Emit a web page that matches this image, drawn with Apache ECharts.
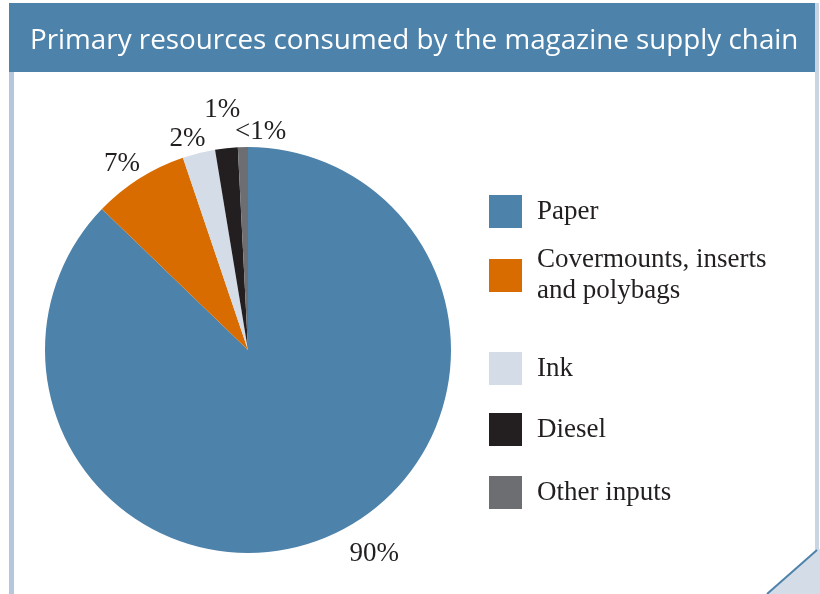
<!DOCTYPE html>
<html>
<head>
<meta charset="utf-8">
<script src="https://cdn.jsdelivr.net/npm/echarts@6/dist/echarts.min.js"></script>
<style>
  html, body { margin: 0; padding: 0; background: #fff; }
  #chart { width: 820px; height: 594px; }
</style>
</head>
<body>
<div id="chart"></div>
<script>
// values; label text as printed on the chart
const categories = ['Paper', 'Covermounts, inserts\nand polybags', 'Ink', 'Diesel', 'Other inputs'];
const shares = [87.3, 7.6, 2.6, 1.8, 0.8];
const shareLabels = ['90%', '7%', '2%', '1%', '<1%'];
const colors = ['#4d82ab', '#d96c00', '#d4dce8', '#231f20', '#6d6e71'];

const chart = echarts.init(document.getElementById('chart'), null, { renderer: 'canvas' });

// icon tops of each legend row
const legendTops = [195, 259, 352, 413, 476];
const labelShift = [[38, 8], [-7, -6], [-4, -4], [2, -28], [23, -5]];

const serif = '"Liberation Serif", "DejaVu Serif", serif';
const LINE_H = 31;

const option = {
  backgroundColor: '#fff',
  animation: false,
  color: colors,
  graphic: [
    { type: 'rect', shape: { x: 9, y: 3, width: 806, height: 69 }, style: { fill: '#4d82ab' } },
    { type: 'rect', shape: { x: 9, y: 72, width: 5, height: 522 }, style: { fill: '#b4c7dc' } },
    { type: 'rect', shape: { x: 815, y: 3, width: 4, height: 548 }, style: { fill: '#c9d5e3' } },
    {
      type: 'polygon',
      shape: { points: [[767, 594], [819, 549], [820, 549], [820, 594]] },
      style: { fill: '#d4dce8' }
    },
    {
      type: 'line',
      shape: { x1: 767, y1: 594, x2: 817, y2: 550 },
      style: { stroke: '#4d82ab', lineWidth: 2 }
    },
    {
      type: 'text',
      left: 30,
      top: 27,
      style: {
        text: 'Primary resources consumed by the magazine supply chain',
        fill: '#fff',
        font: '27.8px "Open Sans", "Noto Sans", sans-serif'
      }
    }
  ],
  legend: categories.map((name, i) => {
    const multi = name.indexOf('\n') >= 0;
    return {
      data: [name],
      orient: 'vertical',
      left: 489,
      // a two-line label is pushed down one line so its first line sits beside the icon
      top: legendTops[i] - (multi ? LINE_H - 1 : 0),
      padding: 0,
      itemWidth: 33,
      itemHeight: 33,
      icon: 'rect',
      selectedMode: false,
      textStyle: {
        fontFamily: serif,
        fontSize: 27,
        color: '#231f20',
        lineHeight: LINE_H,
        padding: multi ? [LINE_H, 0, 0, 10] : [0, 0, 0, 10]
      }
    };
  }),
  series: [
    {
      type: 'pie',
      center: [248, 350],
      radius: 203,
      startAngle: 90,
      clockwise: true,
      avoidLabelOverlap: false,
      data: categories.map((name, i) => ({ name, value: shares[i] })),
      label: {
        show: true,
        position: 'outside',
        formatter: p => shareLabels[p.dataIndex],
        fontFamily: serif,
        fontSize: 27,
        color: '#231f20'
      },
      labelLine: { show: false, length: 10, length2: 0 },
      labelLayout: p => ({
        align: 'center',
        verticalAlign: 'middle',
        dx: labelShift[p.dataIndex][0],
        dy: labelShift[p.dataIndex][1]
      }),
      itemStyle: { borderWidth: 0 },
      emphasis: { disabled: true }
    }
  ]
};

chart.setOption(option);
</script>
</body>
</html>
